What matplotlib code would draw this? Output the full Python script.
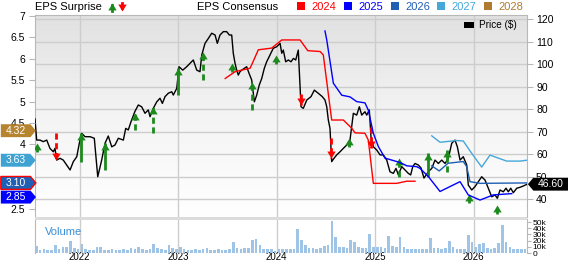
import numpy as np
import matplotlib
matplotlib.use('Agg')
import matplotlib.pyplot as plt
import matplotlib.transforms as mtransforms
from matplotlib.colors import LinearSegmentedColormap
from matplotlib.lines import Line2D
from matplotlib.patches import Rectangle
from matplotlib.path import Path

plt.rcParams['font.family'] = ['Liberation Sans', 'DejaVu Sans']

# ---------------- data (x = fractional year) ----------------
price_t = [2021.546, 2021.563, 2021.597, 2021.630, 2021.665, 2021.698, 2021.732, 2021.749,
           2021.766, 2021.800, 2021.833, 2021.868, 2021.902, 2021.935, 2021.970, 2021.996,
           2022.020, 2022.054, 2022.105, 2022.148, 2022.183, 2022.223, 2022.257, 2022.290,
           2022.325, 2022.358, 2022.392, 2022.443, 2022.467, 2022.493, 2022.521, 2022.561,
           2022.595, 2022.629, 2022.663, 2022.696, 2022.714, 2022.747, 2022.782, 2022.815,
           2022.839, 2022.866, 2022.899, 2022.934, 2022.950, 2022.985, 2023.008, 2023.046,
           2023.086, 2023.120, 2023.153, 2023.188, 2023.221, 2023.239, 2023.272, 2023.306,
           2023.340, 2023.374, 2023.397, 2023.424, 2023.458, 2023.492, 2023.519, 2023.543,
           2023.559, 2023.577, 2023.594, 2023.610, 2023.627, 2023.645, 2023.671, 2023.695,
           2023.719, 2023.746, 2023.773, 2023.797, 2023.823, 2023.848, 2023.874, 2023.898,
           2023.932, 2023.965, 2024.000, 2024.034, 2024.051, 2024.067, 2024.091, 2024.118,
           2024.145, 2024.169, 2024.193, 2024.219, 2024.247, 2024.270, 2024.305, 2024.348,
           2024.382, 2024.422, 2024.463, 2024.490, 2024.508, 2024.524, 2024.541, 2024.558,
           2024.582, 2024.609, 2024.643, 2024.676, 2024.711, 2024.744, 2024.778, 2024.812,
           2024.839, 2024.863, 2024.896, 2024.914, 2024.940, 2024.957, 2024.981, 2025.015,
           2025.049, 2025.082, 2025.117, 2025.150, 2025.184, 2025.211, 2025.235, 2025.269,
           2025.303, 2025.336, 2025.360, 2025.381, 2025.404, 2025.438, 2025.465, 2025.495,
           2025.539, 2025.574, 2025.607, 2025.641, 2025.675, 2025.709, 2025.742, 2025.777,
           2025.810, 2025.834, 2025.861, 2025.894, 2025.929, 2025.945, 2025.980, 2026.013,
           2026.047, 2026.081, 2026.115, 2026.148, 2026.183, 2026.216, 2026.240, 2026.267,
           2026.301, 2026.328, 2026.351, 2026.376, 2026.402, 2026.437, 2026.470, 2026.504,
           2026.544]
price = [75.6, 66.2, 66.2, 65.5, 66.2, 62.5, 61.0, 62.5,
         57.3, 58.1, 57.3, 55.1, 52.9, 56.6, 58.8, 64.8,
         69.2, 67.7, 67.7, 67.0, 49.9, 57.3, 64.8, 68.0,
         63.2, 64.0, 67.0, 66.2, 71.4, 70.7, 74.4, 79.0,
         81.8, 81.0, 78.1, 79.6, 76.6, 80.3, 83.2, 84.8,
         82.5, 85.5, 87.0, 87.7, 86.2, 89.2, 98.8, 97.3,
         98.8, 100.3, 101.8, 97.3, 96.6, 104.0, 109.2, 111.4,
         113.7, 112.9, 109.2, 112.9, 114.4, 114.4, 112.9, 112.9,
         104.8, 100.3, 97.3, 95.1, 96.6, 97.3, 98.1, 98.8,
         95.9, 92.9, 83.2, 86.2, 90.7, 93.6, 98.1, 101.0,
         104.0, 107.0, 107.7, 109.2, 104.8, 106.2, 101.0, 101.8,
         101.0, 102.5, 101.8, 106.2, 81.0, 80.3, 84.0, 85.5,
         88.4, 87.0, 85.5, 84.0, 81.0, 75.1, 71.4, 56.6,
         58.1, 59.6, 61.0, 62.5, 64.0, 66.2, 78.1, 77.3,
         81.0, 77.3, 78.8, 77.3, 79.6, 67.7, 63.2, 61.8,
         59.6, 59.6, 57.3, 52.1, 51.4, 53.6, 50.7, 54.4,
         52.9, 51.4, 50.7, 54.4, 55.8, 55.1, 53.8, 49.3,
         52.1, 53.6, 57.3, 55.8, 57.3, 55.8, 58.1, 64.8,
         66.2, 63.2, 57.3, 58.8, 55.1, 46.2, 44.0, 45.5,
         47.7, 49.9, 48.4, 44.8, 41.0, 41.8, 40.3, 44.0,
         43.2, 44.8, 43.2, 44.8, 42.8, 44.8, 45.2, 45.8,
         46.6]

# EPS consensus for each fiscal year
eps2024_t = [2023.477, 2023.578, 2023.730, 2023.746, 2023.813, 2023.949, 2024.051, 2024.237,
             2024.315, 2024.440, 2024.473, 2024.558, 2024.676, 2024.761, 2024.795, 2024.896,
             2024.930, 2024.981, 2025.218, 2025.320, 2025.404]
eps2024 = [5.54, 5.70, 5.78, 5.86, 6.21, 6.25, 6.44, 6.44,
           6.19, 6.17, 6.09, 4.57, 4.57, 4.38, 4.27, 4.26,
           4.10, 3.09, 3.09, 3.14, 3.14]
eps2025_t = [2024.490, 2024.508, 2024.575, 2024.660, 2024.744, 2024.812, 2024.896, 2024.930,
             2024.981, 2025.032, 2025.099, 2025.218, 2025.269, 2025.320, 2025.421, 2025.455,
             2025.539, 2025.658, 2025.861, 2025.945, 2026.064, 2026.199, 2026.386]
eps2025 = [6.65, 6.44, 5.43, 5.15, 5.11, 5.00, 4.97, 4.80,
           4.26, 3.95, 3.68, 3.60, 3.56, 3.50, 3.48, 3.44,
           3.25, 2.90, 3.13, 2.82, 2.70, 2.82, 2.85]
eps2026_t = [2025.574, 2025.650, 2025.740, 2025.894, 2025.929, 2025.962, 2026.064, 2026.538]
eps2026 = [3.50, 3.38, 3.56, 3.60, 3.48, 3.13, 3.09, 3.10]
eps2027_t = [2025.574, 2025.658, 2025.827, 2025.894, 2025.962, 2026.081, 2026.165, 2026.335,
             2026.470, 2026.538]
eps2027 = [4.20, 4.05, 4.09, 4.08, 3.85, 3.47, 3.75, 3.61, 3.61, 3.63]

# latest consensus tags on the left (2028, 2027, 2026, 2025)
tag_values = [4.32, 3.63, 2.85, 3.10]
tag_colors = ['#b6832f', '#3ea3d3', '#0000ff', '#1f5fb4']
tag_edges = ['none', 'none', 'none', '#ff0000']
tag_nudge = [0, 0, -2.5, 0]   # points

# EPS surprises (earnings dates)
surp_t = [2021.563, 2021.759, 2022.010, 2022.257, 2022.558, 2022.747, 2023.001, 2023.249,
          2023.551, 2023.746, 2023.993, 2024.247, 2024.551, 2024.737, 2024.954, 2025.242,
          2025.539, 2025.729, 2025.955, 2026.240]
surp_head = [64.8, 57.3, 69.2, 64.8, 78.1, 81.0, 98.1, 105.5,
             100.3, 92.1, 104.0, 82.0, 58.1, 67.0, 62.5, 58.1,
             60.3, 61.8, 42.1, 37.3]
surp_tail = [61.0, 69.2, 56.6, 52.9, 70.7, 69.2, 86.2, 92.9,
             96.3, 79.6, 100.0, 86.5, 67.0, 63.0, 72.1, 49.9,
             49.9, 52.1, 38.1, 33.3]
surp_beat = [True, False, True, True, True, True, True, True,
             True, True, True, False, False, True, False, True,
             True, True, True, True]
surp_solid = [False, False, True, True, False, False, True, False,
              False, False, False, False, False, False, False, False,
              True, False, False, False]

# volume (thousands), two-week bins from mid 2021
vol_start = 2021.56
vol_step = 1 / 26
volume = [11.6, 5, 6, 5, 5, 13, 6, 9.5, 9, 19.5, 8, 6, 14, 6, 5, 5,
          10.5, 9, 5, 5, 6, 5, 5, 6, 5, 8, 6, 9, 6, 5, 6, 15,
          8, 6, 5, 13, 8, 6, 10.5, 6, 5, 5, 6, 5, 6, 8, 5, 5,
          6, 5, 5, 6, 17, 8, 7, 8, 8, 21, 22, 13, 7, 6, 6, 3,
          6, 7, 6, 6, 7, 39, 21, 13, 8, 8, 7, 8, 11.6, 13, 51, 26,
          10.5, 10.5, 8, 21, 17, 10, 8, 8, 30.5, 10, 9, 9, 8, 28, 11.6, 9,
          26, 10, 6, 6, 7, 6, 6, 7, 23.7, 8, 8, 7, 8, 19.5, 10, 6,
          6, 7, 28.4, 18, 9, 14.7, 15.8, 8, 6, 8, 16.8, 46, 18, 10, 7, 6,
          7, 6]

years = [2022, 2023, 2024, 2025, 2026]
price_ticks = [40, 50, 60, 70, 80, 90, 100, 110, 120]
eps_ticks = [2.5, 4, 4.5, 5, 5.5, 6, 6.5, 7]   # 3 and 3.5 sit behind the tags
vol_ticks = [0, 10, 20, 30, 40, 50]
cons_years = ['2024', '2025', '2026', '2027', '2028']
cons_colors = ['#ff0000', '#0000ff', '#1f5fb4', '#45a7da', '#b07b2e']

# ---------------- layout ----------------
W, H = 568, 264
fig = plt.figure(figsize=(W / 100, H / 100), dpi=100)


def box(x0, y0, x1, y1):
    return [x0 / W, 1 - y1 / H, (x1 - x0) / W, (y1 - y0) / H]


def fx(px):
    return px / W


def fy(py):
    return 1 - py / H


def tag_right(x0, y0, width, height, mutation_size):
    px, py = 0.45 * mutation_size, 0.14 * mutation_size
    x0, y0 = x0 - px, y0 - py
    x1, y1 = x0 + width + 2 * px, y0 + height + 2 * py
    tip = (y1 - y0) * 0.42
    return Path([(x0, y0), (x1, y0), (x1 + tip, (y0 + y1) / 2), (x1, y1), (x0, y1), (x0, y0)],
                closed=True)


def tag_left(x0, y0, width, height, mutation_size):
    px, py = 0.45 * mutation_size, 0.14 * mutation_size
    x0, y0 = x0 - px, y0 - py
    x1, y1 = x0 + width + 2 * px, y0 + height + 2 * py
    tip = (y1 - y0) * 0.42
    return Path([(x0, y0), (x1, y0), (x1, y1), (x0, y1), (x0 - tip, (y0 + y1) / 2), (x0, y0)],
                closed=True)


up_head = [(-0.6, -1), (0.6, -1), (0, 0)]
down_head = [(-0.6, 1), (0.6, 1), (0, 0)]
GREEN = '#1d8a1d'
RED = '#ff0000'
GRID = '#cdcdcd'
SPINE = '#b8b8b8'

ax = fig.add_axes(box(35, 15, 527, 217))
ax_eps = ax.twinx()
ax.yaxis.tick_right()
ax_eps.yaxis.tick_left()

# background gradient
grad = LinearSegmentedColormap.from_list('bg', ['#e1e1e1', '#f4f4f4', '#ffffff'])
ax.imshow(np.linspace(0, 1, 256).reshape(-1, 1), cmap=grad, aspect='auto',
          extent=[0, 1, 0, 1], transform=ax.transAxes, zorder=0)

xlim = (2021.546, 2026.541)
ax.set_xlim(*xlim)
ax.set_ylim(32.0, 121.8)
ax_eps.set_ylim(2.304, 7.023)
ax.set_axisbelow(True)
ax.set_xticks(years)
ax.set_yticks(price_ticks)
ax.grid(True, color=GRID, lw=1)
ax.tick_params(axis='x', length=0, labelbottom=False)
ax.tick_params(axis='y', right=True, left=False, labelright=True, labelleft=False,
               length=4.5, color=SPINE, labelsize=7.5, pad=2)
ax_eps.set_yticks(eps_ticks)
ax_eps.set_yticklabels([f'{v:g}' for v in eps_ticks])
ax_eps.tick_params(axis='y', length=4, color=SPINE, labelsize=7.5, pad=3)
for s in ax.spines.values():
    s.set_color(SPINE)
    s.set_linewidth(0.8)
ax.spines['bottom'].set_visible(False)
for s in ax_eps.spines.values():
    s.set_visible(False)

# price line
ax.plot(price_t, price, color='black', lw=1.0, zorder=4)

# surprise arrows
for t, hd, tl, beat, solid in zip(surp_t, surp_head, surp_tail, surp_beat, surp_solid):
    c = GREEN if beat else RED
    ls = '-' if solid else (0, (2.2, 1.3))
    ax.plot([t, t], [tl, hd], color=c, lw=2.0, linestyle=ls, zorder=5,
            solid_capstyle='butt', dash_capstyle='butt')
    ax.plot([t], [hd], linestyle='none', marker=up_head if beat else down_head,
            ms=10, color=c, mew=0, zorder=6)

# consensus lines
ax_eps.plot(eps2024_t, eps2024, color=cons_colors[0], lw=1.0)
ax_eps.plot(eps2025_t, eps2025, color=cons_colors[1], lw=1.0)
ax_eps.plot(eps2026_t, eps2026, color=cons_colors[2], lw=1.0)
ax_eps.plot(eps2027_t, eps2027, color=cons_colors[3], lw=1.0)
ax_eps.set_xlim(*xlim)

# left tags with the latest consensus values
tag_tr = mtransforms.blended_transform_factory(fig.transFigure, ax_eps.transData)
for v, c, ec, dy in zip(tag_values, tag_colors, tag_edges, tag_nudge):
    tr = mtransforms.offset_copy(tag_tr, fig=fig, x=0, y=dy, units='points')
    ax_eps.text(fx(5.5), v, f'{v:.2f}', transform=tr, ha='left', va='center',
                fontsize=7.5, color='white', clip_on=False, zorder=10,
                bbox=dict(boxstyle=tag_right, fc=c, ec=ec, lw=1.0))

# last price badge
badge_tr = mtransforms.blended_transform_factory(fig.transFigure, ax.transData)
ax.text(fx(538), price[-1], f'{price[-1]:.2f}', transform=badge_tr, ha='left', va='center',
        fontsize=7.5, color='white', clip_on=False, zorder=10,
        bbox=dict(boxstyle=tag_left, fc='black', ec='none'))

# price legend inside plot
fig.patches.append(Rectangle((fx(464), fy(28)), fx(10), 6 / H, transform=fig.transFigure,
                             facecolor='black', edgecolor='none', zorder=10))
fig.text(fx(479), fy(25.5), 'Price ($)', fontsize=7.2, va='center', ha='left')

# ---------------- volume panel ----------------
vax = fig.add_axes(box(35, 219, 527, 253))
vol_t = vol_start + np.arange(len(volume)) * vol_step
vax.bar(vol_t, volume, width=vol_step * 0.7, color='#9fc4e6', align='center', zorder=2)
vax.set_xlim(*xlim)
vax.set_ylim(0, 55)
vax.set_xticks(years)
vax.set_xticklabels([str(y) for y in years])
vax.grid(True, axis='x', color=GRID, lw=1, zorder=0)
vax.tick_params(axis='x', length=0, labelsize=7, pad=-0.5)
vax.yaxis.tick_right()
vax.set_yticks(vol_ticks)
vax.set_yticklabels(['0' if v == 0 else f'{v}k' for v in vol_ticks])
vax.tick_params(axis='y', length=3, color=SPINE, labelsize=6, pad=1)
for s in vax.spines.values():
    s.set_color(SPINE)
    s.set_linewidth(0.8)
vax.spines['bottom'].set_visible(False)
vax.spines['top'].set_visible(False)
vax.text(0.02, 0.62, 'Volume', transform=vax.transAxes, fontsize=8, color='#3b8fd4',
         va='center', ha='left')

# separator band between panels
fig.patches.append(Rectangle((fx(35), fy(219.5)), fx(492), 2.5 / H, transform=fig.transFigure,
                             facecolor='#dcdcdc', edgecolor='none'))

# ---------------- header legend ----------------
fig.text(fx(35), fy(6.5), 'EPS Surprise', fontsize=8, va='center', ha='left')
fig.add_artist(Line2D([fx(112), fx(112)], [fy(11), fy(5)], color=GREEN, lw=2,
                      transform=fig.transFigure))
fig.add_artist(Line2D([fx(112)], [fy(2.5)], marker=up_head, ms=10, mew=0, color=GREEN,
                      linestyle='none', transform=fig.transFigure))
fig.add_artist(Line2D([fx(122), fx(122)], [fy(2.5), fy(8)], color=RED, lw=2,
                      transform=fig.transFigure))
fig.add_artist(Line2D([fx(122)], [fy(11)], marker=down_head, ms=10, mew=0, color=RED,
                      linestyle='none', transform=fig.transFigure))
fig.text(fx(197), fy(6.5), 'EPS Consensus', fontsize=8, va='center', ha='left')
leg_x = [297, 344, 391, 437, 484]
for x0, yr, c in zip(leg_x, cons_years, cons_colors):
    fig.patches.append(Rectangle((fx(x0), fy(9.5)), fx(8), 8 / H, transform=fig.transFigure,
                                 facecolor=c, edgecolor='none'))
    fig.text(fx(x0 + 14), fy(6.5), yr, fontsize=8, color=c, va='center', ha='left')

fig.savefig('out.png', dpi=100)
